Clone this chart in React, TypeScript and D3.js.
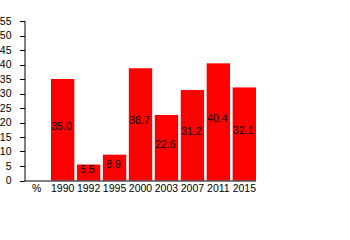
import React from "react";
import * as d3 from "d3";

const categories = ["%", "1990", "1992", "1995", "2000", "2003", "2007", "2011", "2015"];
const values: (number | null)[] = [null, 35.0, 5.5, 8.9, 38.7, 22.6, 31.2, 40.4, 32.1];
const yTicks = [0, 5, 10, 15, 20, 25, 30, 35, 40, 45, 50, 55];

const W = 350;
const H = 240;
const left = 25;
const right = 256;
const top = 21;
const bottom = 180.5;
const FONT = "'Liberation Sans', Arial, sans-serif";
const FS = 10.5;

export default function App() {
  const x = d3.scaleBand<string>().domain(categories).range([left, right]).paddingInner(0.1).paddingOuter(0);
  const y = d3.scaleLinear().domain([0, 55]).range([bottom, top]);

  return (
    <div style={{ position: "fixed", left: 0, top: 0 }}>
      <svg width={W} height={H} style={{ display: "block", background: "#fff" }} fontFamily={FONT}>
        {categories.map((c, i) => {
          const v = values[i];
          if (v == null) return null;
          const x0 = x(c)!;
          return (
            <rect key={c} x={x0} y={y(v)} width={x.bandwidth()} height={bottom - y(v)} fill="#ff0000" />
          );
        })}
        {categories.map((c, i) => {
          const v = values[i];
          if (v == null) return null;
          const x0 = x(c)! + x.bandwidth() / 2;
          return (
            <text key={"l" + c} x={x0 - 1} y={(y(v) + bottom) / 2} textAnchor="middle" fontSize={FS} fill="#000">
              {v.toFixed(1)}
            </text>
          );
        })}
        <line x1={left} x2={left} y1={top} y2={bottom + 0.5} stroke="#000" strokeWidth={1} />
        <line x1={left} x2={right} y1={bottom + 0.5} y2={bottom + 0.5} stroke="#000" strokeWidth={1} />
        {yTicks.map((t) => (
          <g key={"t" + t}>
            <line x1={left - 5} x2={left} y1={Math.round(y(t)) + 0.5} y2={Math.round(y(t)) + 0.5} stroke="#000" />
            <text x={11.5} y={y(t)} dy="0.34em" textAnchor="end" fontSize={FS} fill="#000">
              {t}
            </text>
          </g>
        ))}
        {categories.map((c) => (
          <text key={"x" + c} x={x(c)! + x.bandwidth() / 2} y={191.5} textAnchor="middle" fontSize={FS} fill="#000">
            {c}
          </text>
        ))}
      </svg>
    </div>
  );
}
